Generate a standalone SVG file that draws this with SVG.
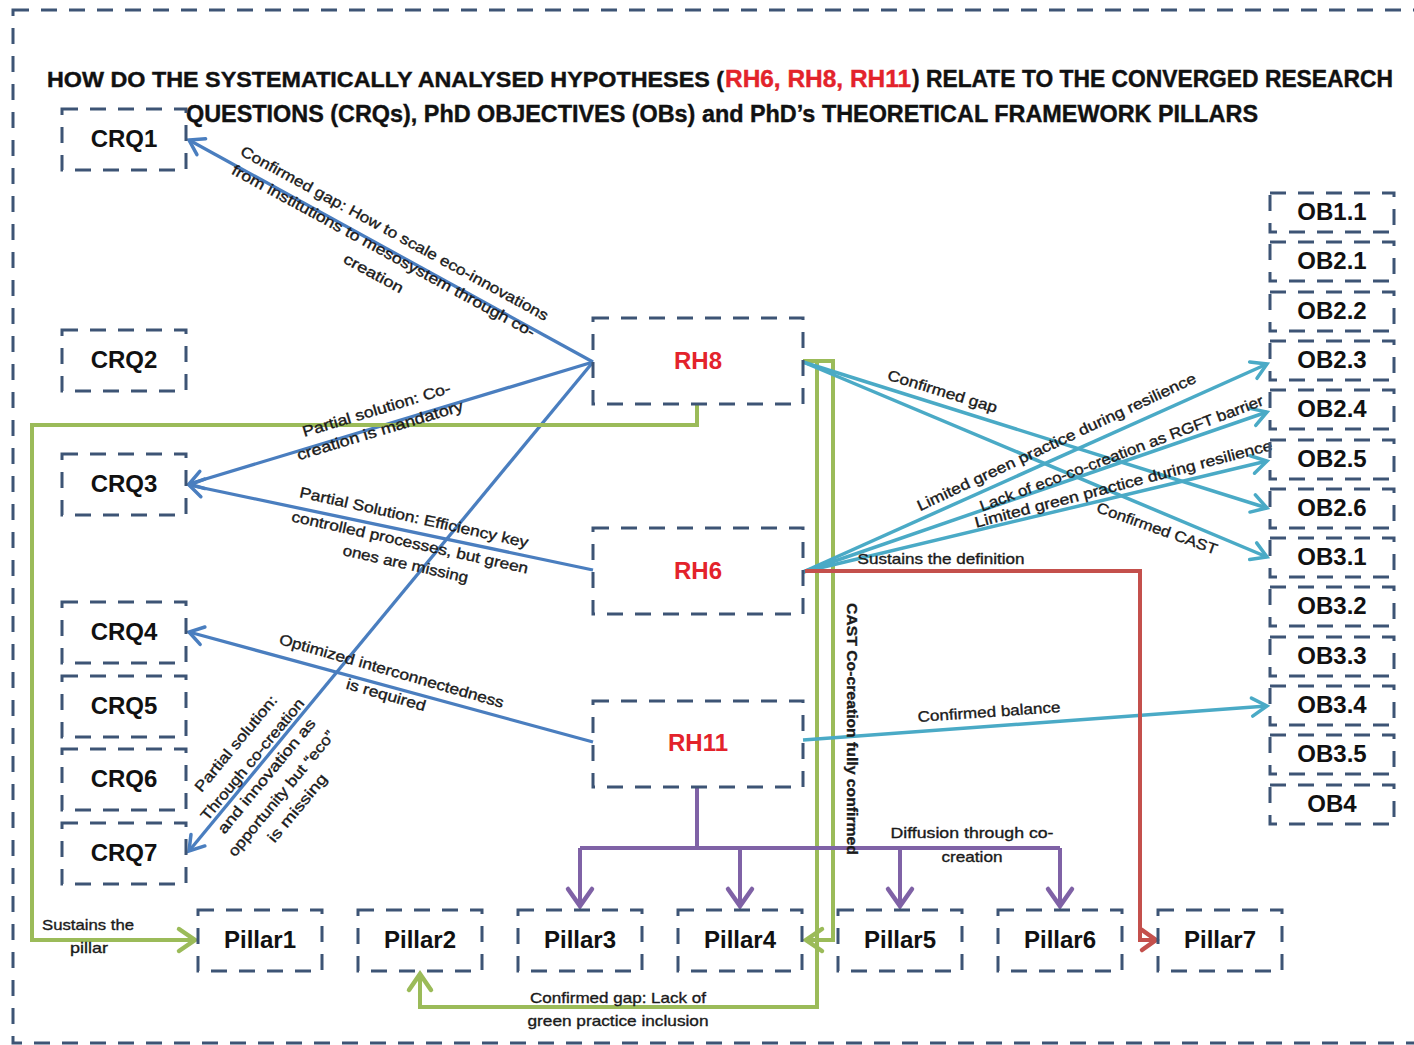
<svg xmlns="http://www.w3.org/2000/svg" width="1414" height="1045" viewBox="0 0 1414 1045">
  <style>
    .box { fill: none; stroke: #3d5475; stroke-width: 3; stroke-dasharray: 16 12; }
    .node { font-family: "Liberation Sans", Arial, sans-serif; font-weight: bold; font-size: 24px; fill: #111; text-anchor: middle; }
    .rh { fill: #e3232b; }
    .title { font-family: "Liberation Sans", Arial, sans-serif; font-weight: bold; font-size: 24px; fill: #111; stroke: #111; stroke-width: 0.4; }
    .title.hl { fill: #e3232b; stroke: #e3232b; }
    .title.head { font-size: 22.5px; }
    .title.tail { font-size: 23px; }
    .lbl { font-family: "Liberation Sans", Arial, sans-serif; font-size: 15px; fill: #1a1a1a; stroke: #1a1a1a; stroke-width: 0.35; text-anchor: middle; }
    .bold { font-weight: bold; }
    .blue { fill: none; stroke: #4a7ebf; stroke-width: 3.3; }
    .cyan { fill: none; stroke: #4aaac6; stroke-width: 3.5; }
    .green { fill: none; stroke: #9bbb59; stroke-width: 4; }
    .purple { fill: none; stroke: #7f62a6; stroke-width: 4; }
    .red { fill: none; stroke: #c4504c; stroke-width: 4; }
  </style>
  <defs>
    <marker id="ahBlue" viewBox="-20 -15 24 30" refX="0" refY="0" markerWidth="24" markerHeight="30" markerUnits="userSpaceOnUse" orient="auto" overflow="visible">
      <path d="M-14,-9 L0,0 L-14,9" fill="none" stroke="#4a7ebf" stroke-width="3.5" stroke-linecap="round"/>
    </marker>
    <marker id="ahCyan" viewBox="-20 -15 24 30" refX="0" refY="0" markerWidth="24" markerHeight="30" markerUnits="userSpaceOnUse" orient="auto" overflow="visible">
      <path d="M-15,-9 L0,0 L-15,9" fill="none" stroke="#4aaac6" stroke-width="3.5" stroke-linecap="round"/>
    </marker>
    <marker id="ahGreen" viewBox="-20 -15 24 30" refX="0" refY="0" markerWidth="24" markerHeight="30" markerUnits="userSpaceOnUse" orient="auto" overflow="visible">
      <path d="M-16,-11 L0,0 L-16,11" fill="none" stroke="#9bbb59" stroke-width="4.5" stroke-linecap="round"/>
    </marker>
    <marker id="ahPurple" viewBox="-20 -15 24 30" refX="0" refY="0" markerWidth="24" markerHeight="30" markerUnits="userSpaceOnUse" orient="auto" overflow="visible">
      <path d="M-17,-12 L0,0 L-17,12" fill="none" stroke="#7f62a6" stroke-width="4.5" stroke-linecap="round"/>
    </marker>
    <marker id="ahRed" viewBox="-20 -15 24 30" refX="0" refY="0" markerWidth="24" markerHeight="30" markerUnits="userSpaceOnUse" orient="auto" overflow="visible">
      <path d="M-14,-10 L0,0 L-14,10" fill="none" stroke="#c4504c" stroke-width="4.5" stroke-linecap="round"/>
    </marker>
  </defs>

  <rect width="1414" height="1045" fill="#ffffff"/>

  <!-- outer dashed frame -->
  <rect class="box" x="13" y="10" width="1420" height="1033"/>

  <!-- heading -->
  <g id="title">
    <text class="title head" x="47" y="87" textLength="677" lengthAdjust="spacingAndGlyphs">HOW DO THE SYSTEMATICALLY ANALYSED HYPOTHESES (</text>
    <text class="title hl" x="725" y="87" textLength="186" lengthAdjust="spacingAndGlyphs">RH6, RH8, RH11</text>
    <text class="title tail" x="912" y="87" textLength="481" lengthAdjust="spacingAndGlyphs">) RELATE TO THE CONVERGED RESEARCH</text>
    <text class="title" x="186" y="122" textLength="1072" lengthAdjust="spacingAndGlyphs">QUESTIONS (CRQs), PhD OBJECTIVES (OBs) and PhD’s THEORETICAL FRAMEWORK PILLARS</text>
  </g>

  <!-- connectors -->
  <g id="connectors">
    <!-- RH8 to research questions -->
    <line class="blue" x1="593" y1="362" x2="189" y2="140" marker-end="url(#ahBlue)"/>
    <line class="blue" x1="593" y1="362" x2="189" y2="484" marker-end="url(#ahBlue)"/>
    <line class="blue" x1="593" y1="362" x2="189" y2="851" marker-end="url(#ahBlue)"/>
    <!-- RH6 / RH11 to research questions -->
    <line class="blue" x1="593" y1="570" x2="189" y2="485" marker-end="url(#ahBlue)"/>
    <line class="blue" x1="593" y1="742" x2="189" y2="632" marker-end="url(#ahBlue)"/>

    <!-- green: RH8 to Pillar1 -->
    <path class="green" d="M697,405 V425 H32 V940 H195" marker-end="url(#ahGreen)"/>
    <!-- green: RH8 to Pillar2 -->
    <path class="green" d="M817,361 V1007 H420 V974" marker-end="url(#ahGreen)"/>
    <!-- green: RH8 to Pillar4 -->
    <path class="green" d="M803,361 H833 V940 H806" marker-end="url(#ahGreen)"/>

    <!-- cyan: hypotheses to objectives -->
    <line class="cyan" x1="803" y1="362" x2="1267" y2="508" marker-end="url(#ahCyan)"/>
    <line class="cyan" x1="803" y1="362" x2="1267" y2="557" marker-end="url(#ahCyan)"/>
    <line class="cyan" x1="803" y1="572" x2="1267" y2="364" marker-end="url(#ahCyan)"/>
    <line class="cyan" x1="803" y1="572" x2="1267" y2="412" marker-end="url(#ahCyan)"/>
    <line class="cyan" x1="803" y1="572" x2="1267" y2="461" marker-end="url(#ahCyan)"/>
    <line class="cyan" x1="803" y1="740" x2="1267" y2="706" marker-end="url(#ahCyan)"/>

    <!-- red: RH6 to Pillar7 -->
    <path class="red" d="M805,571 H1140 V940 H1156" marker-end="url(#ahRed)"/>

    <!-- purple: RH11 diffusion to pillars -->
    <path class="purple" d="M697,787 V848"/>
    <path class="purple" d="M580,848 H1060"/>
    <path class="purple" d="M580,848 V906" marker-end="url(#ahPurple)"/>
    <path class="purple" d="M740,848 V906" marker-end="url(#ahPurple)"/>
    <path class="purple" d="M900,848 V906" marker-end="url(#ahPurple)"/>
    <path class="purple" d="M1060,848 V906" marker-end="url(#ahPurple)"/>

    <!-- connector labels -->
    <g transform="translate(394.5,233.5) rotate(28.6)">
      <text class="lbl" x="0" y="5" textLength="348" lengthAdjust="spacingAndGlyphs">Confirmed gap: How to scale eco-innovations</text>
    </g>
    <g transform="translate(383.5,251) rotate(28.6)">
      <text class="lbl" x="0" y="5" textLength="343" lengthAdjust="spacingAndGlyphs">from institutions  to mesosystem through  co-</text>
    </g>
    <g transform="translate(373.5,273.5) rotate(28.6)">
      <text class="lbl" x="0" y="5" textLength="66" lengthAdjust="spacingAndGlyphs">creation</text>
    </g>

    <g transform="translate(376.5,410) rotate(-16.8)">
      <text class="lbl" x="0" y="5" textLength="154" lengthAdjust="spacingAndGlyphs">Partial solution:  Co-</text>
    </g>
    <g transform="translate(380,430.5) rotate(-16.8)">
      <text class="lbl" x="0" y="5" textLength="173" lengthAdjust="spacingAndGlyphs">creation is mandatory</text>
    </g>

    <g transform="translate(414,517.5) rotate(12.5)">
      <text class="lbl" x="0" y="5" textLength="234" lengthAdjust="spacingAndGlyphs">Partial Solution:  Efficiency key</text>
    </g>
    <g transform="translate(410,542.5) rotate(12.5)">
      <text class="lbl" x="0" y="5" textLength="242" lengthAdjust="spacingAndGlyphs">controlled  processes, but green</text>
    </g>
    <g transform="translate(405.5,564) rotate(12.5)">
      <text class="lbl" x="0" y="5" textLength="128" lengthAdjust="spacingAndGlyphs">ones are missing</text>
    </g>

    <g transform="translate(391.5,671) rotate(16)">
      <text class="lbl" x="0" y="5" textLength="233" lengthAdjust="spacingAndGlyphs">Optimized interconnectedness</text>
    </g>
    <g transform="translate(386,695) rotate(16)">
      <text class="lbl" x="0" y="5" textLength="82" lengthAdjust="spacingAndGlyphs">is required</text>
    </g>

    <g transform="translate(236,743.5) rotate(-50.4)">
      <text class="lbl" x="0" y="5" textLength="120" lengthAdjust="spacingAndGlyphs">Partial solution:</text>
    </g>
    <g transform="translate(252.5,759.5) rotate(-50.4)">
      <text class="lbl" x="0" y="5" textLength="153" lengthAdjust="spacingAndGlyphs">Through co-creation</text>
    </g>
    <g transform="translate(266.5,776) rotate(-50.4)">
      <text class="lbl" x="0" y="5" textLength="144" lengthAdjust="spacingAndGlyphs">and innovation as</text>
    </g>
    <g transform="translate(281.5,793.5) rotate(-50.4)">
      <text class="lbl" x="0" y="5" textLength="158" lengthAdjust="spacingAndGlyphs">opportunity  but “eco”</text>
    </g>
    <g transform="translate(297.5,808) rotate(-50.4)">
      <text class="lbl" x="0" y="5" textLength="84" lengthAdjust="spacingAndGlyphs">is missing</text>
    </g>

    <g transform="translate(942.5,391.5) rotate(17)">
      <text class="lbl" x="0" y="5" textLength="114" lengthAdjust="spacingAndGlyphs">Confirmed gap</text>
    </g>
    <g transform="translate(1056.5,442) rotate(-25)">
      <text class="lbl" x="0" y="5" textLength="306" lengthAdjust="spacingAndGlyphs">Limited green practice during  resilience</text>
    </g>
    <g transform="translate(1121.5,453.5) rotate(-20.7)">
      <text class="lbl" x="0" y="5" textLength="302" lengthAdjust="spacingAndGlyphs">Lack of eco-co-creation  as RGFT barrier</text>
    </g>
    <g transform="translate(1123.5,484) rotate(-14.7)">
      <text class="lbl" x="0" y="5" textLength="307" lengthAdjust="spacingAndGlyphs">Limited green practice during  resilience</text>
    </g>
    <g transform="translate(1157,528.5) rotate(19.7)">
      <text class="lbl" x="0" y="5" textLength="127" lengthAdjust="spacingAndGlyphs">Confirmed CAST</text>
    </g>
    <text class="lbl" x="941" y="564" textLength="167" lengthAdjust="spacingAndGlyphs">Sustains the definition</text>
    <g transform="translate(989,712) rotate(-4)">
      <text class="lbl" x="0" y="5" textLength="143" lengthAdjust="spacingAndGlyphs">Confirmed balance</text>
    </g>
    <g transform="translate(853,729) rotate(90)">
      <text class="lbl bold" x="0" y="6" textLength="252" lengthAdjust="spacingAndGlyphs">CAST Co-creation  fully confirmed</text>
    </g>
    <text class="lbl" x="972" y="838" textLength="163" lengthAdjust="spacingAndGlyphs">Diffusion through  co-</text>
    <text class="lbl" x="972" y="862" textLength="61" lengthAdjust="spacingAndGlyphs">creation</text>
    <text class="lbl" x="618" y="1003" textLength="176" lengthAdjust="spacingAndGlyphs">Confirmed gap:  Lack of</text>
    <text class="lbl" x="618" y="1026" textLength="181" lengthAdjust="spacingAndGlyphs">green practice  inclusion</text>
    <text class="lbl" x="88" y="930" textLength="92" lengthAdjust="spacingAndGlyphs">Sustains the</text>
    <text class="lbl" x="89" y="953" textLength="38" lengthAdjust="spacingAndGlyphs">pillar</text>
  </g>

  <!-- converged research questions -->
  <g id="CRQ1"><rect class="box" x="62" y="109" width="124" height="61"/><text class="node" x="124" y="147">CRQ1</text></g>
  <g id="CRQ2"><rect class="box" x="62" y="330" width="124" height="61"/><text class="node" x="124" y="368">CRQ2</text></g>
  <g id="CRQ3"><rect class="box" x="62" y="454" width="124" height="61"/><text class="node" x="124" y="492">CRQ3</text></g>
  <g id="CRQ4"><rect class="box" x="62" y="602" width="124" height="61"/><text class="node" x="124" y="640">CRQ4</text></g>
  <g id="CRQ5"><rect class="box" x="62" y="676" width="124" height="61"/><text class="node" x="124" y="714">CRQ5</text></g>
  <g id="CRQ6"><rect class="box" x="62" y="749" width="124" height="61"/><text class="node" x="124" y="787">CRQ6</text></g>
  <g id="CRQ7"><rect class="box" x="62" y="823" width="124" height="61"/><text class="node" x="124" y="861">CRQ7</text></g>

  <!-- hypotheses -->
  <g id="RH8"><rect class="box" x="593" y="318" width="210" height="86"/><text class="node rh" x="698" y="369">RH8</text></g>
  <g id="RH6"><rect class="box" x="593" y="528" width="210" height="86"/><text class="node rh" x="698" y="579">RH6</text></g>
  <g id="RH11"><rect class="box" x="593" y="701" width="210" height="86"/><text class="node rh" x="698" y="751">RH11</text></g>

  <!-- objectives -->
  <g id="OB1.1"><rect class="box" x="1270" y="193" width="124" height="39"/><text class="node" x="1332" y="220">OB1.1</text></g>
  <g id="OB2.1"><rect class="box" x="1270" y="242" width="124" height="39"/><text class="node" x="1332" y="269">OB2.1</text></g>
  <g id="OB2.2"><rect class="box" x="1270" y="292" width="124" height="39"/><text class="node" x="1332" y="319">OB2.2</text></g>
  <g id="OB2.3"><rect class="box" x="1270" y="341" width="124" height="39"/><text class="node" x="1332" y="368">OB2.3</text></g>
  <g id="OB2.4"><rect class="box" x="1270" y="390" width="124" height="39"/><text class="node" x="1332" y="417">OB2.4</text></g>
  <g id="OB2.5"><rect class="box" x="1270" y="440" width="124" height="39"/><text class="node" x="1332" y="467">OB2.5</text></g>
  <g id="OB2.6"><rect class="box" x="1270" y="489" width="124" height="39"/><text class="node" x="1332" y="516">OB2.6</text></g>
  <g id="OB3.1"><rect class="box" x="1270" y="538" width="124" height="39"/><text class="node" x="1332" y="565">OB3.1</text></g>
  <g id="OB3.2"><rect class="box" x="1270" y="587" width="124" height="39"/><text class="node" x="1332" y="614">OB3.2</text></g>
  <g id="OB3.3"><rect class="box" x="1270" y="637" width="124" height="39"/><text class="node" x="1332" y="664">OB3.3</text></g>
  <g id="OB3.4"><rect class="box" x="1270" y="686" width="124" height="39"/><text class="node" x="1332" y="713">OB3.4</text></g>
  <g id="OB3.5"><rect class="box" x="1270" y="735" width="124" height="39"/><text class="node" x="1332" y="762">OB3.5</text></g>
  <g id="OB4"><rect class="box" x="1270" y="785" width="124" height="39"/><text class="node" x="1332" y="812">OB4</text></g>

  <!-- theoretical framework pillars -->
  <g id="Pillar1"><rect class="box" x="198" y="910" width="124" height="61"/><text class="node" x="260" y="948">Pillar1</text></g>
  <g id="Pillar2"><rect class="box" x="358" y="910" width="124" height="61"/><text class="node" x="420" y="948">Pillar2</text></g>
  <g id="Pillar3"><rect class="box" x="518" y="910" width="124" height="61"/><text class="node" x="580" y="948">Pillar3</text></g>
  <g id="Pillar4"><rect class="box" x="678" y="910" width="124" height="61"/><text class="node" x="740" y="948">Pillar4</text></g>
  <g id="Pillar5"><rect class="box" x="838" y="910" width="124" height="61"/><text class="node" x="900" y="948">Pillar5</text></g>
  <g id="Pillar6"><rect class="box" x="998" y="910" width="124" height="61"/><text class="node" x="1060" y="948">Pillar6</text></g>
  <g id="Pillar7"><rect class="box" x="1158" y="910" width="124" height="61"/><text class="node" x="1220" y="948">Pillar7</text></g>
</svg>
